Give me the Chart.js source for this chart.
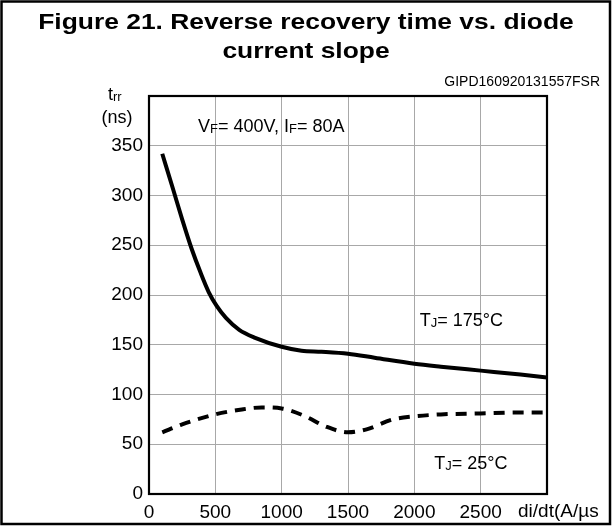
<!doctype html>
<html lang="en">
  <head>
    <meta charset="UTF-8" />
    <title>Reverse recovery time vs. diode current slope</title>
    <script src="https://cdn.jsdelivr.net/npm/chart.js"></script>
    <style>
      body {
        margin: 0;
        background: #fff;
      }
      canvas {
        display: block;
      }
    </style>
  </head>
  <body>
    <canvas id="trrChart" width="612" height="529"></canvas>

    <script>
      // di/dt (A/us) and trr (ns)
      const slope175 = [100, 180, 250, 320, 390, 450, 510, 580, 680, 800, 1000, 1150, 1300, 1500, 1700, 2000, 2200, 2500, 2800, 3000];
      const trr175 = [342, 307, 276, 247, 222, 203, 189, 177, 165, 157, 148, 144, 143, 141, 137, 131, 128, 124, 120, 117];

      const slope25 = [100, 250, 500, 700, 850, 1000, 1180, 1330, 1500, 1640, 1840, 2000, 2200, 2500, 2800, 3000];
      const trr25 = [62, 70, 80, 85, 87, 86, 78, 68, 62, 65, 75, 78, 80, 81, 82, 82];

      const xMax = 3000;
      const yMax = 400;

      const FONT = '"Liberation Sans", Arial, sans-serif';

      const toPoints = (xs, ys) => xs.map((x, i) => ({ x: x, y: ys[i] }));

      // draws a run of text pieces, some smaller (subscripts)
      function drawRuns(ctx, runs, x, y) {
        runs.forEach(r => {
          ctx.font = r.size + 'px ' + FONT;
          ctx.fillText(r.text, x, y + (r.dy || 0));
          x += ctx.measureText(r.text).width;
        });
      }

      const decor = {
        id: 'decor',
        afterDraw(chart) {
          const ctx = chart.ctx;
          const area = chart.chartArea;
          const xs = chart.scales.x;
          const ys = chart.scales.y;
          ctx.save();

          // outer frame
          ctx.strokeStyle = '#000';
          ctx.lineWidth = 2.5;
          ctx.strokeRect(1.5, 1.5, 608.5, 522.5);

          // plot frame
          ctx.lineWidth = 2.2;
          ctx.strokeRect(area.left, area.top, area.right - area.left, area.bottom - area.top);

          ctx.fillStyle = '#000';
          ctx.textBaseline = 'alphabetic';

          // title, a bit wide like the original
          ctx.save();
          ctx.font = 'bold 22px ' + FONT;
          ctx.textAlign = 'center';
          ctx.translate(306, 0);
          ctx.scale(1.2, 1);
          ctx.fillText('Figure 21. Reverse recovery time vs. diode', 0, 29);
          ctx.fillText('current slope', 0, 58);
          ctx.restore();

          ctx.textAlign = 'right';
          ctx.font = '14px ' + FONT;
          ctx.fillText('GIPD160920131557FSR', 600, 86);

          // y axis title
          ctx.textAlign = 'left';
          drawRuns(ctx, [{ text: 't', size: 18 }, { text: 'rr', size: 13, dy: 1 }], 108, 100);
          ctx.textAlign = 'center';
          ctx.font = '18px ' + FONT;
          ctx.fillText('(ns)', 117, 123);

          // x axis title
          ctx.textAlign = 'left';
          ctx.font = '19px ' + FONT;
          ctx.fillText('di/dt(A/\u00b5s', 518, 517);

          // annotations
          drawRuns(ctx, [
            { text: 'V', size: 18 }, { text: 'F', size: 13, dy: 1 },
            { text: '= 400V, I', size: 18 }, { text: 'F', size: 13, dy: 1 },
            { text: '= 80A', size: 18 }
          ], xs.getPixelForValue(370), ys.getPixelForValue(370) + 6.5);

          drawRuns(ctx, [
            { text: 'T', size: 18 }, { text: 'J', size: 13, dy: 1 },
            { text: '= 175\u00b0C', size: 18 }
          ], xs.getPixelForValue(2040), ys.getPixelForValue(175) + 6.5);

          drawRuns(ctx, [
            { text: 'T', size: 18 }, { text: 'J', size: 13, dy: 1 },
            { text: '= 25\u00b0C', size: 18 }
          ], xs.getPixelForValue(2150), ys.getPixelForValue(32) + 6.5);

          ctx.restore();
        }
      };

      new Chart(document.getElementById('trrChart').getContext('2d'), {
        type: 'scatter',
        data: {
          datasets: [
            {
              label: 'TJ = 175°C',
              data: toPoints(slope175, trr175),
              showLine: true,
              borderColor: '#000',
              borderWidth: 4,
              pointRadius: 0,
              cubicInterpolationMode: 'monotone',
            },
            {
              label: 'TJ = 25°C',
              data: toPoints(slope25, trr25),
              showLine: true,
              borderColor: '#000',
              borderWidth: 4,
              borderDash: [11, 8],
              pointRadius: 0,
              cubicInterpolationMode: 'monotone',
            },
          ],
        },
        options: {
          responsive: false,
          animation: false,
          layout: { padding: { top: 96, right: 65, left: 0, bottom: 0 } },
          plugins: {
            legend: { display: false },
            tooltip: { enabled: false },
          },
          scales: {
            x: {
              type: 'linear',
              min: 0,
              max: xMax,
              afterFit: s => { s.height = 35; },
              grid: { color: '#a8a8a8', lineWidth: 1, drawTicks: false },
              border: { display: false },
              ticks: {
                stepSize: 500,
                autoSkip: false,
                maxRotation: 0,
                padding: 7,
                color: '#000',
                font: { family: FONT, size: 19 },
                callback: v => (v === xMax ? '' : v),
              },
            },
            y: {
              min: 0,
              max: yMax,
              afterFit: s => { s.width = 149; },
              grid: { color: '#a8a8a8', lineWidth: 1, drawTicks: false },
              border: { display: false },
              ticks: {
                stepSize: 50,
                padding: 6,
                color: '#000',
                font: { family: FONT, size: 19 },
                callback: v => (v === yMax ? '' : v),
              },
            },
          },
        },
        plugins: [decor],
      });
    </script>
  </body>
</html>
